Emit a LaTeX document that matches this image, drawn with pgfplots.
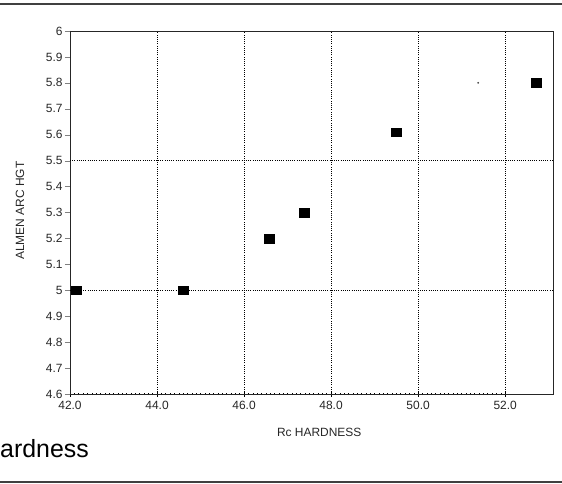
\documentclass[border=0pt]{standalone}
\usepackage{pgfplots}
\pgfplotsset{compat=1.18}
\usepackage{fontspec}
\setmainfont{Liberation Sans}
\begin{document}
\begin{tikzpicture}
\begin{axis}[
  at={(0,0)}, anchor=south west,
  scale only axis, width=483bp, height=363bp,
  xmin=42, xmax=53.1, ymin=4.6, ymax=6,
  xtick={42,44,46,48,50,52},
  ytick={4.6,4.7,4.8,4.9,5,5.1,5.2,5.3,5.4,5.5,5.6,5.7,5.8,5.9,6},
  xticklabel style={/pgf/number format/fixed,/pgf/number format/precision=1,/pgf/number format/fixed zerofill},
  /pgf/number format/assume math mode=true,
  tick label style={font=\fontsize{12}{14}\selectfont, text=black!85},
  xticklabel style={yshift=-1bp},
  yticklabel style={xshift=1bp},
  xmajorgrids=true,
  grid style={black, line width=0.6pt, dash pattern=on 0.8bp off 1.4bp},
  extra y ticks={5,5.5},
  extra y tick labels={},
  extra y tick style={ymajorgrids=true, major tick length=0pt},
  minor x tick num=19,
  x tick style={black},
  xtick align=center,
  ytick align=outside,
  ytick pos=left, xtick pos=bottom,
  major tick length=5bp,
  minor tick length=2bp,
  minor x tick style={line width=0.5pt},
  axis line style={black!85, line width=0.9pt},
  xlabel={Rc HARDNESS},
  ylabel={ALMEN ARC HGT},
  label style={font=\fontsize{12}{14}\selectfont, text=black!85},
  xlabel style={at={(rel axis cs:0.516,-0.1157)}, anchor=base},
  ylabel style={at={(rel axis cs:-0.1035,0.505)}, anchor=center},
  clip=false,
]
\addplot[only marks, mark=square*, mark size=4.5bp, black, mark options={xscale=1.1,yscale=0.95}]
  coordinates {(42.15,5.0) (44.6,5.0) (46.57,5.2) (47.38,5.3) (49.5,5.61) (52.72,5.8)};
\addplot[only marks, mark=*, mark size=0.7bp, black!70]
  coordinates {(51.38,5.8)};
\end{axis}
\draw[black!75, line width=1.2bp] (-70bp,390bp) -- (492bp,390bp);
\draw[black!75, line width=1.2bp] (-70bp,-88bp) -- (492bp,-88bp);
\node[anchor=base west, inner sep=0pt, font=\fontsize{25}{28}\selectfont] at (-70bp,-63bp) {ardness};
\pgfresetboundingbox
\useasboundingbox (-70bp,-90bp) rectangle (492bp,394bp);
\end{tikzpicture}
\end{document}
